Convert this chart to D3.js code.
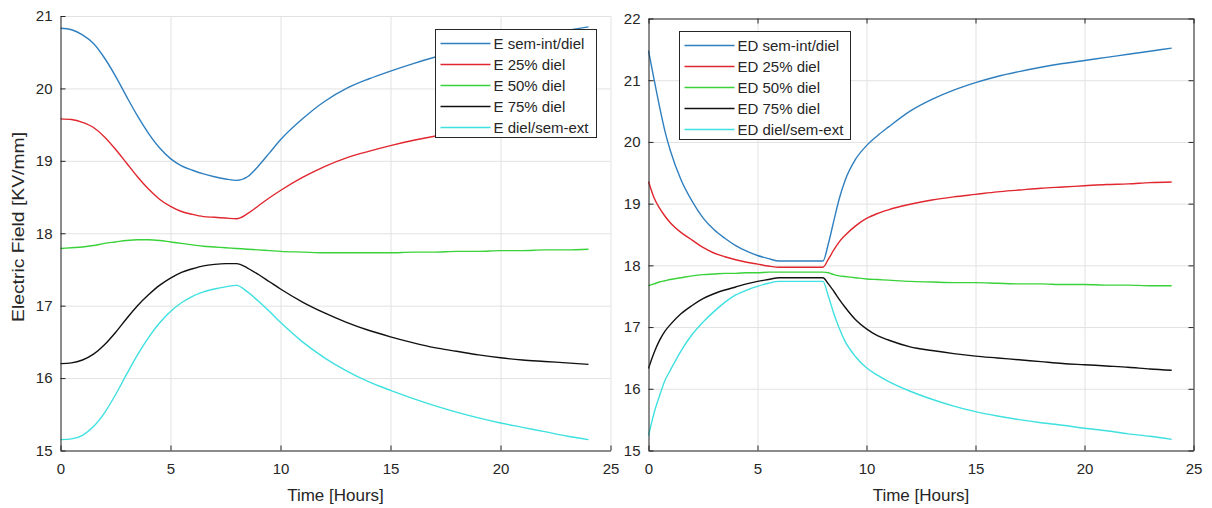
<!DOCTYPE html>
<html>
<head>
<meta charset="utf-8">
<script src="https://cdn.jsdelivr.net/npm/d3@7"></script>
<style>
  body { margin: 0; background: #fff; }
  svg text { font-family: "Liberation Sans", Arial, Helvetica, sans-serif; fill: #262626; }
  .grid line { stroke: #e2e2e2; stroke-width: 1; }
  .grid path { display: none; }
  .axis path, .axis line { stroke: #262626; }
  .axis text { font-size: 15px; }
  .line { fill: none; stroke-width: 1.4; }
</style>
</head>
<body>
<div id="chart"></div>
<script>
// ---- left panel: E ----
var hoursLeft = [0, 0.5, 1, 1.5, 2, 2.5, 3, 3.5, 4, 4.5, 5, 5.5, 6, 6.5, 7, 7.5, 8, 8.5, 9, 9.5, 10,
  11, 12, 13, 14, 15, 16, 17, 18, 19, 20, 21, 22, 23, 24];
var eSemInt = [20.83, 20.81, 20.74, 20.62, 20.42, 20.17, 19.89, 19.62, 19.38, 19.18, 19.03, 18.93, 18.87, 18.82, 18.78, 18.75, 18.73, 18.78, 18.93, 19.11, 19.29,
  19.58, 19.82, 20.00, 20.13, 20.24, 20.34, 20.43, 20.51, 20.58, 20.64, 20.70, 20.75, 20.80, 20.85];
var e25 = [19.58, 19.57, 19.53, 19.46, 19.33, 19.16, 18.97, 18.78, 18.61, 18.47, 18.37, 18.30, 18.26, 18.23, 18.22, 18.21, 18.20, 18.27, 18.38, 18.49, 18.59,
  18.77, 18.92, 19.04, 19.13, 19.21, 19.28, 19.34, 19.39, 19.43, 19.47, 19.50, 19.53, 19.55, 19.57];
var e50 = [17.79, 17.80, 17.81, 17.83, 17.86, 17.88, 17.90, 17.91, 17.91, 17.90, 17.88, 17.86, 17.84, 17.82, 17.81, 17.80, 17.79, 17.78, 17.77, 17.76, 17.75,
  17.74, 17.73, 17.73, 17.73, 17.73, 17.74, 17.74, 17.75, 17.75, 17.76, 17.76, 17.77, 17.77, 17.78];
var e75 = [16.20, 16.21, 16.25, 16.33, 16.46, 16.63, 16.82, 17.00, 17.15, 17.28, 17.38, 17.46, 17.51, 17.55, 17.57, 17.58, 17.58, 17.52, 17.43, 17.33, 17.23,
  17.05, 16.90, 16.77, 16.66, 16.57, 16.49, 16.42, 16.37, 16.32, 16.28, 16.25, 16.23, 16.21, 16.19];
var eSemExt = [15.15, 15.16, 15.21, 15.33, 15.52, 15.77, 16.05, 16.32, 16.56, 16.76, 16.92, 17.04, 17.13, 17.19, 17.23, 17.26, 17.28, 17.19, 17.06, 16.92, 16.77,
  16.50, 16.28, 16.10, 15.95, 15.83, 15.72, 15.62, 15.53, 15.45, 15.38, 15.32, 15.26, 15.20, 15.15];
var namesLeft = ["E sem-int/diel", "E 25% diel", "E 50% diel", "E 75% diel", "E diel/sem-ext"];

// ---- right panel: ED ----
var hoursRight = [0, 0.25, 0.5, 0.75, 1, 1.5, 2, 2.5, 3, 3.5, 4, 4.5, 5, 5.5, 6, 6.5, 7, 7.5, 8, 8.25, 8.5, 8.75, 9, 9.5, 10,
  10.5, 11, 12, 13, 14, 15, 16, 17, 18, 19, 20, 21, 22, 23, 24];
var edSemInt = [21.48, 21.02, 20.58, 20.18, 19.86, 19.38, 19.04, 18.77, 18.58, 18.44, 18.32, 18.23, 18.16, 18.11, 18.07, 18.07, 18.07, 18.07, 18.07, 18.35, 18.72, 19.08, 19.36, 19.72, 19.94,
  20.10, 20.24, 20.50, 20.69, 20.84, 20.96, 21.06, 21.14, 21.21, 21.27, 21.32, 21.37, 21.42, 21.47, 21.52];
var ed25 = [19.36, 19.10, 18.93, 18.80, 18.69, 18.53, 18.41, 18.29, 18.20, 18.14, 18.09, 18.05, 18.02, 17.99, 17.97, 17.97, 17.97, 17.97, 17.97, 18.10, 18.25, 18.38, 18.48, 18.64, 18.76,
  18.84, 18.90, 18.99, 19.06, 19.11, 19.15, 19.19, 19.22, 19.25, 19.27, 19.29, 19.31, 19.32, 19.34, 19.35];
var ed50 = [17.67, 17.70, 17.73, 17.75, 17.77, 17.80, 17.83, 17.85, 17.86, 17.87, 17.87, 17.88, 17.88, 17.89, 17.89, 17.89, 17.89, 17.89, 17.89, 17.88, 17.85, 17.83, 17.82, 17.80, 17.78,
  17.77, 17.76, 17.74, 17.73, 17.72, 17.72, 17.71, 17.70, 17.70, 17.69, 17.69, 17.68, 17.68, 17.67, 17.67];
var ed75 = [16.33, 16.58, 16.78, 16.93, 17.04, 17.22, 17.35, 17.46, 17.54, 17.60, 17.65, 17.70, 17.74, 17.77, 17.80, 17.80, 17.80, 17.80, 17.80, 17.70, 17.58, 17.45, 17.33, 17.12, 16.97,
  16.86, 16.79, 16.68, 16.62, 16.57, 16.53, 16.50, 16.47, 16.44, 16.41, 16.39, 16.37, 16.35, 16.32, 16.30];
var edSemExt = [15.24, 15.60, 15.88, 16.13, 16.30, 16.62, 16.88, 17.08, 17.25, 17.40, 17.52, 17.60, 17.66, 17.71, 17.74, 17.74, 17.74, 17.74, 17.74, 17.50, 17.22, 16.98, 16.78, 16.52, 16.34,
  16.22, 16.12, 15.96, 15.83, 15.72, 15.63, 15.56, 15.50, 15.45, 15.41, 15.36, 15.32, 15.27, 15.23, 15.18];
var namesRight = ["ED sem-int/diel", "ED 25% diel", "ED 50% diel", "ED 75% diel", "ED diel/sem-ext"];

var xTicks = [0, 5, 10, 15, 20, 25];
var yTicksLeft = [15, 16, 17, 18, 19, 20, 21];
var yTicksRight = [15, 16, 17, 18, 19, 20, 21, 22];
var colors = ["#2f7fbf", "#e0262e", "#3ad23a", "#111111", "#3fe0e0"];

var svg = d3.select('#chart').append('svg')
  .attr('width', 1212)
  .attr('height', 508);

var fmt = d3.format('d');

function panel(opt) {
  var x = d3.scaleLinear().domain([0, 25]).range([opt.left, opt.right]);
  var y = d3.scaleLinear().domain(opt.yDomain).range([opt.bottom, opt.top]);
  var w = opt.right - opt.left, h = opt.bottom - opt.top;

  // grid
  svg.append('g')
    .attr('class', 'grid')
    .attr('transform', 'translate(0,' + opt.bottom + ')')
    .call(d3.axisBottom(x).tickValues(xTicks).tickSize(-h).tickFormat(''));
  svg.append('g')
    .attr('class', 'grid')
    .attr('transform', 'translate(' + opt.left + ',0)')
    .call(d3.axisLeft(y).tickValues(opt.yTicks).tickSize(-w).tickFormat(''));

  // lines
  var line = d3.line()
    .curve(d3.curveMonotoneX)
    .x(function(d) { return x(d[0]); })
    .y(function(d) { return y(d[1]); });
  opt.series.forEach(function(s, i) {
    svg.append('path')
      .datum(opt.hours.map(function(t, j) { return [t, s[j]]; }))
      .attr('class', 'line')
      .attr('stroke', colors[i])
      .attr('d', line);
  });

  // axes, ticks point inward
  svg.append('g')
    .attr('class', 'axis')
    .attr('transform', 'translate(0,' + opt.bottom + ')')
    .call(d3.axisBottom(x).tickValues(xTicks).tickFormat(fmt).tickSizeInner(-5).tickSizeOuter(0).tickPadding(13));
  svg.append('g')
    .attr('class', 'axis')
    .attr('transform', 'translate(' + opt.left + ',0)')
    .call(d3.axisLeft(y).tickValues(opt.yTicks).tickFormat(fmt).tickSizeInner(-5).tickSizeOuter(0).tickPadding(8));

  if (opt.box) {
    svg.append('g')
      .attr('class', 'axis')
      .attr('transform', 'translate(0,' + opt.top + ')')
      .call(d3.axisTop(x).tickValues(xTicks).tickSizeInner(-5).tickSizeOuter(0).tickFormat(''));
    svg.append('g')
      .attr('class', 'axis')
      .attr('transform', 'translate(' + opt.right + ',0)')
      .call(d3.axisRight(y).tickValues(opt.yTicks).tickSizeInner(-5).tickSizeOuter(0).tickFormat(''));
  }

  // x label
  svg.append('text')
    .attr('x', (opt.left + opt.right) / 2)
    .attr('y', opt.bottom + 50)
    .attr('text-anchor', 'middle')
    .style('font-size', '17px')
    .text('Time [Hours]');

  // legend
  var lg = svg.append('g')
    .attr('transform', 'translate(' + opt.legend[0] + ',' + opt.legend[1] + ')');
  lg.append('rect')
    .attr('width', opt.legend[2])
    .attr('height', 108)
    .attr('fill', '#fff')
    .attr('stroke', '#262626');
  opt.names.forEach(function(n, i) {
    var yy = 14 + i * 21;
    lg.append('line')
      .attr('x1', 5).attr('x2', 55)
      .attr('y1', yy).attr('y2', yy)
      .attr('stroke', colors[i])
      .attr('stroke-width', 1.4);
    lg.append('text')
      .attr('x', 58)
      .attr('y', yy)
      .attr('dy', '0.36em')
      .style('font-size', '15px')
      .text(n);
  });
}

panel({
  left: 60.5, right: 610.5, top: 16, bottom: 450.5,
  yDomain: [15, 21], yTicks: yTicksLeft, box: false,
  hours: hoursLeft, series: [eSemInt, e25, e50, e75, eSemExt],
  names: namesLeft, legend: [435.5, 29.5, 161]
});
panel({
  left: 648.5, right: 1193.5, top: 18.5, bottom: 450.5,
  yDomain: [15, 22], yTicks: yTicksRight, box: true,
  hours: hoursRight, series: [edSemInt, ed25, ed50, ed75, edSemExt],
  names: namesRight, legend: [679.5, 31.5, 171]
});

svg.append('text')
  .attr('transform', 'translate(24,227) rotate(-90)')
  .attr('text-anchor', 'middle')
  .attr('textLength', 190)
  .attr('lengthAdjust', 'spacingAndGlyphs')
  .style('font-size', '16px')
  .text('Electric Field [KV/mm]');
</script>
</body>
</html>
